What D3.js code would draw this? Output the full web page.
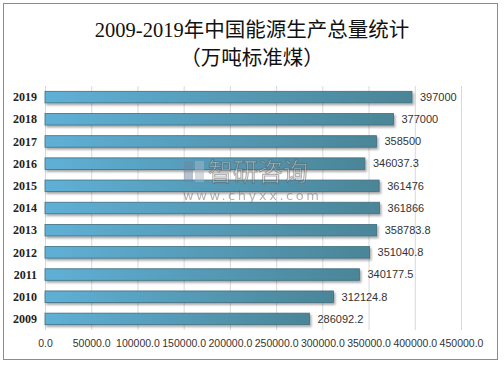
<!DOCTYPE html>
<html>
<head>
<meta charset="utf-8">
<script src="https://d3js.org/d3.v7.min.js"></script>
<style>
  body { margin: 0; background: #fff; }
  svg text { font-family: "Liberation Sans", "Noto Sans CJK SC", sans-serif; }
</style>
</head>
<body>
<script>
// data
var years = ["2019", "2018", "2017", "2016", "2015", "2014", "2013", "2012", "2011", "2010", "2009"];
var values = [397000, 377000, 358500, 346037.3, 361476, 361866, 358783.8, 351040.8, 340177.5, 312124.8, 286092.2];
var valueLabels = ["397000", "377000", "358500", "346037.3", "361476", "361866", "358783.8", "351040.8", "340177.5", "312124.8", "286092.2"];
var ticks = [0, 50000, 100000, 150000, 200000, 250000, 300000, 350000, 400000, 450000];
var titleLines = ["2009-2019年中国能源生产总量统计", "（万吨标准煤）"];

var width = 504, height = 365;

var svg = d3.select("body").append("svg")
    .attr("width", width)
    .attr("height", height);

var defs = svg.append("defs");
var grad = defs.append("linearGradient").attr("id", "barGrad")
    .attr("x1", "0%").attr("x2", "100%").attr("y1", "0%").attr("y2", "0%");
grad.append("stop").attr("offset", "0%").attr("stop-color", "#5fb0d6");
grad.append("stop").attr("offset", "100%").attr("stop-color", "#4b8597");

var shadow = defs.append("filter").attr("id", "shadow")
    .attr("x", "-5%").attr("y", "-50%").attr("width", "110%").attr("height", "220%");
shadow.append("feDropShadow").attr("dx", 1.5).attr("dy", 2)
    .attr("stdDeviation", 1.2).attr("flood-color", "#000").attr("flood-opacity", 0.35);

// outer border
svg.append("rect")
    .attr("x", 3.5).attr("y", 3.5)
    .attr("width", 494).attr("height", 356)
    .attr("fill", "#fff").attr("stroke", "#8c8c8c");

// title
svg.selectAll(".title")
    .data(titleLines)
    .enter().append("text")
    .attr("class", "title")
    .attr("x", 252)
    .attr("y", function(d, i) { return 37 + i * 28; })
    .attr("text-anchor", "middle")
    .style("font-family", "'Liberation Serif', 'Noto Sans CJK SC', serif")
    .style("font-size", "20.5px")
    .style("fill", "#111")
    .text(function(d) { return d; });

var x = d3.scaleLinear().domain([0, 450000]).range([45, 461]);
var y = d3.scaleBand().domain(years).range([86, 330]).paddingInner(0.48).paddingOuter(0.24);

// gridlines
svg.append("g")
    .selectAll("line")
    .data(ticks)
    .enter().append("line")
    .attr("x1", function(d) { return x(d) + 0.5; })
    .attr("x2", function(d) { return x(d) + 0.5; })
    .attr("y1", 86).attr("y2", 330)
    .attr("stroke", "#d9d9d9");

// bars
svg.append("g")
    .selectAll("rect")
    .data(values)
    .enter().append("rect")
    .attr("x", x(0))
    .attr("y", function(d, i) { return y(years[i]); })
    .attr("width", function(d) { return x(d) - x(0); })
    .attr("height", y.bandwidth())
    .attr("fill", "url(#barGrad)")
    .attr("stroke", "#3f6f80")
    .attr("stroke-width", 0.8)
    .attr("filter", "url(#shadow)");

// value labels
svg.append("g")
    .selectAll("text")
    .data(values)
    .enter().append("text")
    .attr("x", function(d) { return x(d) + 8; })
    .attr("y", function(d, i) { return y(years[i]) + y.bandwidth() / 2; })
    .attr("dy", "0.35em")
    .style("font-size", "11px")
    .style("fill", "#333")
    .text(function(d, i) { return valueLabels[i]; });

// year labels
svg.append("g")
    .selectAll("text")
    .data(years)
    .enter().append("text")
    .attr("x", 37)
    .attr("y", function(d) { return y(d) + y.bandwidth() / 2; })
    .attr("dy", "0.35em")
    .attr("text-anchor", "end")
    .style("font-family", "'Liberation Serif', serif")
    .style("font-weight", "bold")
    .style("font-size", "12px")
    .style("fill", "#222")
    .text(function(d) { return d; });

// x axis labels
var xAxis = d3.axisBottom(x).tickValues(ticks).tickSize(0)
    .tickFormat(function(d) { return d3.format(".1f")(d); });
var ax = svg.append("g").attr("transform", "translate(0,337)").call(xAxis);
ax.select(".domain").remove();
ax.selectAll("text")
    .style("font-family", "'Liberation Sans', sans-serif")
    .style("font-size", "10.5px")
    .style("fill", "#333");

// watermark on top
var wm = svg.append("g").attr("opacity", 0.5);
wm.append("rect").attr("x", 184).attr("y", 161).attr("width", 9).attr("height", 21).attr("fill", "#6f86a3");
wm.append("rect").attr("x", 195).attr("y", 161).attr("width", 9).attr("height", 21).attr("fill", "#a9b6c6");
wm.append("text").attr("x", 208).attr("y", 181)
    .style("font-family", "'Noto Sans CJK SC', sans-serif")
    .style("font-size", "25px").style("fill", "#fff")
    .style("stroke", "#666").style("stroke-width", 1.2)
    .text("智研咨询");
wm.append("text").attr("x", 183).attr("y", 200)
    .style("font-family", "'DejaVu Sans', sans-serif")
    .style("font-size", "13px").style("fill", "#666")
    .attr("textLength", 136)
    .text("www.chyxx.com");
</script>
</body>
</html>
